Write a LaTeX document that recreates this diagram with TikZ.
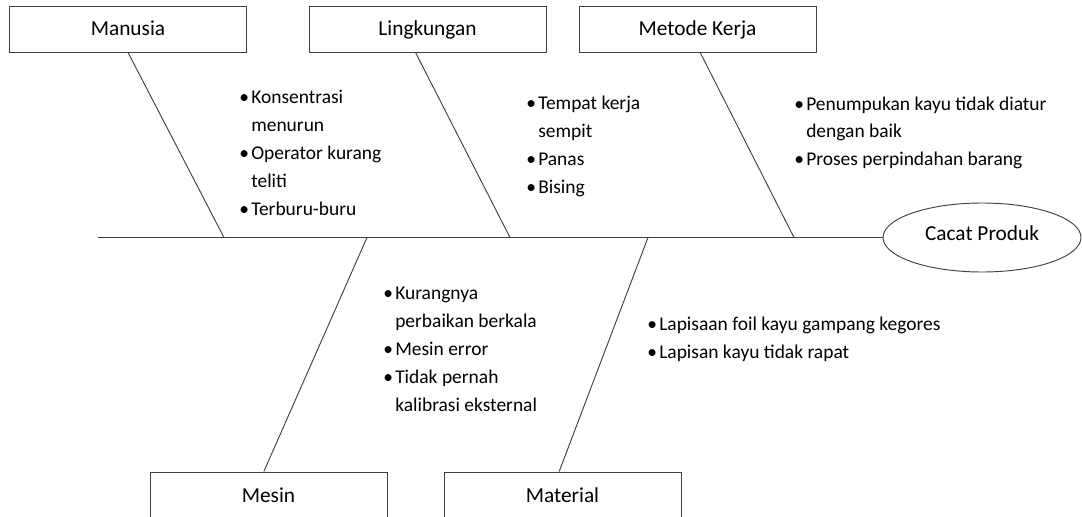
\documentclass[tikz,border=0pt]{standalone}
\usepackage{fontspec}
\setmainfont{Carlito}
\usetikzlibrary{shapes.geometric}

\newcommand{\itm}{\makebox[9pt][l]{\textbullet}}
\newcommand{\hng}{\hspace*{9pt}}

\begin{document}
\begin{tikzpicture}[x=0.75pt, y=-0.75pt,
	cause/.style={draw=black!75, line width=0.7pt, minimum width=177.75pt, minimum height=34.5pt, inner sep=0pt, text height=12.5pt, text depth=2pt, font=\fontsize{16}{19}\selectfont},
	items/.style={anchor=base west, align=left, inner sep=0pt, font=\fontsize{14.6}{21}\selectfont},
	bone/.style={draw=black!75, line width=0.7pt}]
	\useasboundingbox (0,0) rectangle (1082,517);
	\node[cause] (man) at (128,29) {Manusia};
	\node[cause] (ling) at (427.5,29) {Lingkungan};
	\node[cause] (met) at (697.5,29) {Metode Kerja};
	\node[cause] (mes) at (268.5,495) {Mesin};
	\node[cause] (mat) at (562.5,495) {Material};
	\node[draw=black!75, line width=0.7pt, ellipse, minimum width=148.5pt, minimum height=51.75pt, inner sep=0pt, text height=11pt, text depth=6.5pt, font=\fontsize{16}{19}\selectfont] (eff) at (982,237.5) {Cacat Produk};
	\coordinate (tail) at (98,237.5);
	\coordinate (jman) at (224,237.5);
	\coordinate (jling) at (510,237.5);
	\coordinate (jmet) at (794,237.5);
	\coordinate (jmes) at (367,237.5);
	\coordinate (jmat) at (648,237.5);
	\draw[bone] (tail) -- (eff);
	\draw[bone] (man.south) -- (jman);
	\draw[bone] ([xshift=-9pt]ling.south) -- (jling);
	\draw[bone] ([xshift=2pt]met.south) -- (jmet);
	\draw[bone] ([xshift=-3.5pt]mes.north) -- (jmes);
	\draw[bone] ([xshift=-2.5pt]mat.north) -- (jmat);
	\node[items] (tman) at (239,215) {\itm Konsentrasi\\\hng menurun\\\itm Operator kurang\\\hng teliti\\\itm Terburu-buru};
	\node[items] (tling) at (526,193) {\itm Tempat kerja\\\hng sempit\\\itm Panas\\\itm Bising};
	\node[items] (tmet) at (794,166) {\itm Penumpukan kayu tidak diatur\\\hng dengan baik\\\itm Proses perpindahan barang};
	\node[items] (tmes) at (383,411) {\itm Kurangnya\\\hng perbaikan berkala\\\itm Mesin error\\\itm Tidak pernah\\\hng kalibrasi eksternal};
	\node[items] (tmat) at (647,358) {\itm Lapisaan foil kayu gampang kegores\\\itm Lapisan kayu tidak rapat};
\end{tikzpicture}
\end{document}
